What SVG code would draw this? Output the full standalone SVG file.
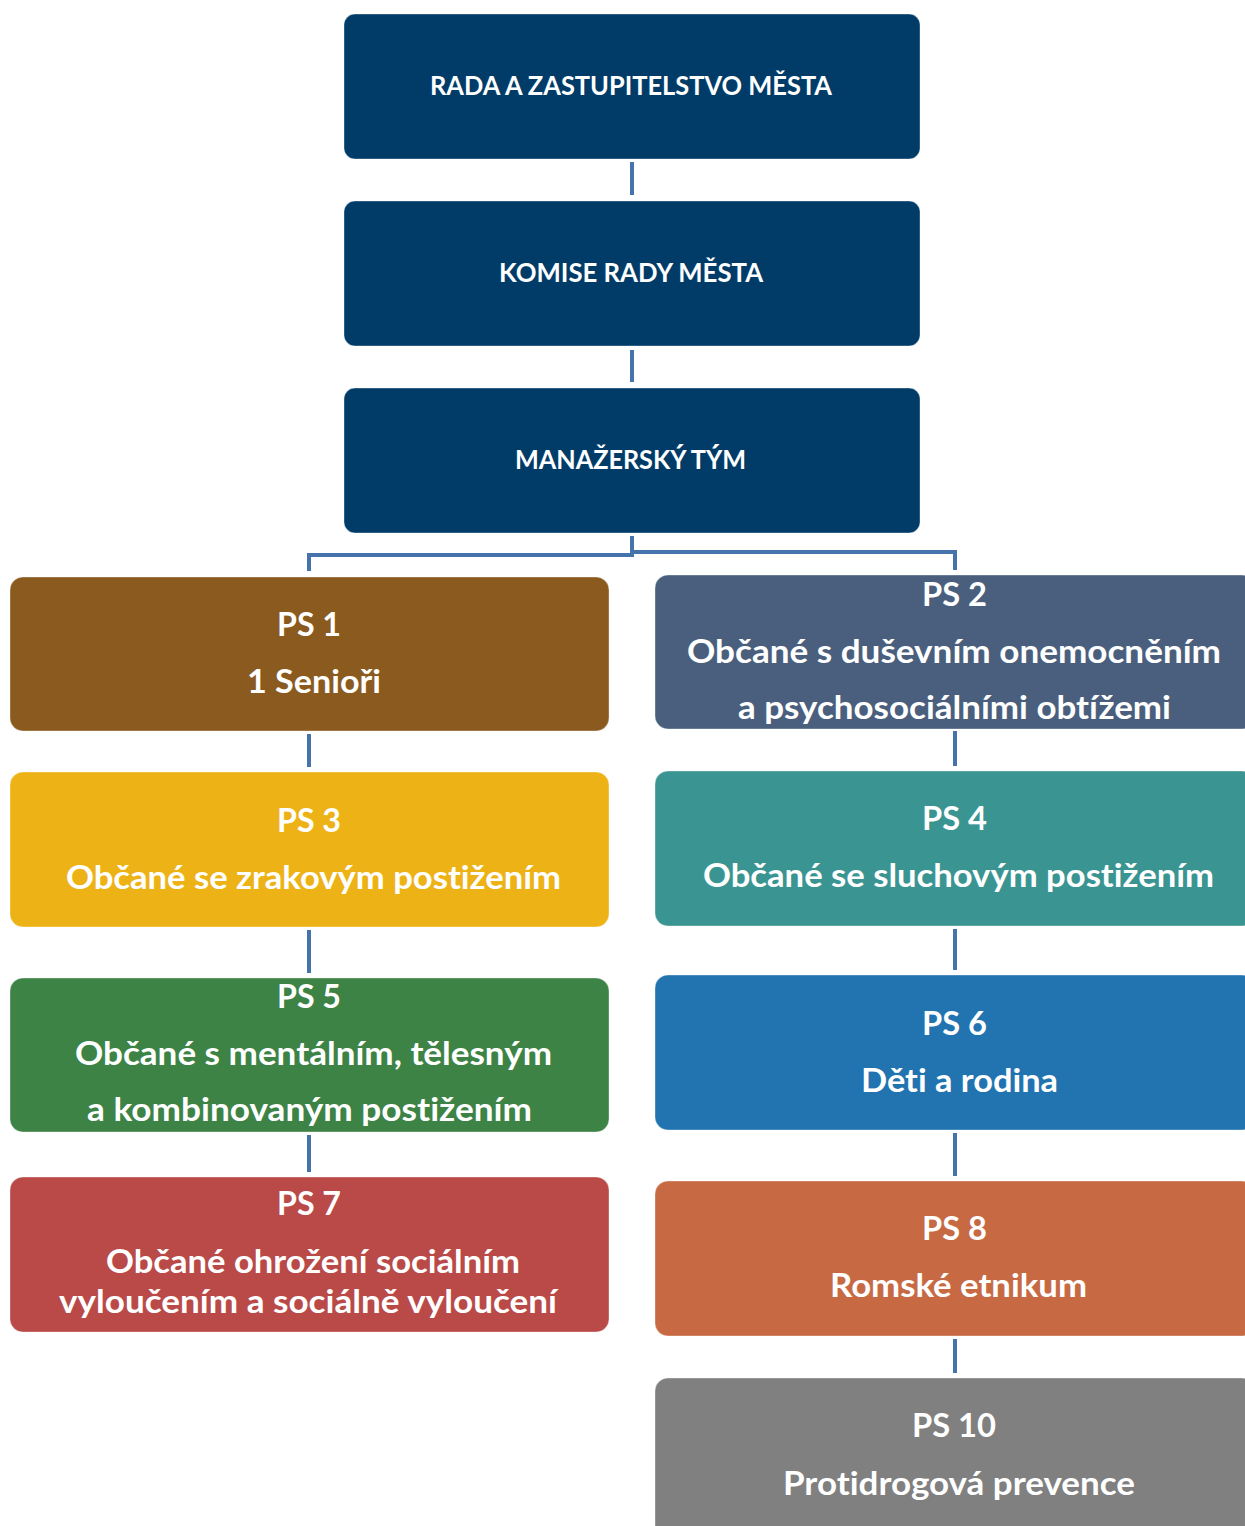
<svg xmlns="http://www.w3.org/2000/svg" width="1245" height="1526" viewBox="0 0 1245 1526">
<style>
text{font-family:Lato,"Open Sans","Liberation Sans",sans-serif;font-weight:bold;fill:#ffffff;text-anchor:middle;font-variant-ligatures:none;font-feature-settings:"liga" 0,"clig" 0,"dlig" 0,"calt" 0}
.t{font-size:26px}
.p{font-size:32px}
.box{stroke:#ffffff;stroke-opacity:0.35;stroke-width:1}
.con{fill:none;stroke:#4673ab;stroke-width:4}
</style>
<rect width="1245" height="1526" fill="#ffffff"/>
<g id="connectors">
<line class="con" x1="632" y1="162" x2="632" y2="195"/>
<line class="con" x1="632" y1="350" x2="632" y2="382"/>
<polyline class="con" points="632,536 632,555 309,555 309,571"/>
<polyline class="con" points="632,552 955,552 955,570"/>
<line class="con" x1="309" y1="734" x2="309" y2="767"/>
<line class="con" x1="309" y1="930" x2="309" y2="973"/>
<line class="con" x1="309" y1="1135" x2="309" y2="1172"/>
<line class="con" x1="955" y1="731" x2="955" y2="766"/>
<line class="con" x1="955" y1="929" x2="955" y2="970"/>
<line class="con" x1="955" y1="1133" x2="955" y2="1176"/>
<line class="con" x1="955" y1="1339" x2="955" y2="1373"/>
</g>
<g id="rada">
<rect class="box" x="344" y="14" width="576" height="145" rx="11" fill="#013c69"/>
<text class="t" x="631" y="95" textLength="402" lengthAdjust="spacingAndGlyphs">RADA A ZASTUPITELSTVO MĚSTA</text>
</g>
<g id="komise">
<rect class="box" x="344" y="201" width="576" height="145" rx="11" fill="#013c69"/>
<text class="t" x="631" y="282" textLength="264" lengthAdjust="spacingAndGlyphs">KOMISE RADY MĚSTA</text>
</g>
<g id="manazersky">
<rect class="box" x="344" y="388" width="576" height="145" rx="11" fill="#013c69"/>
<text class="t" x="630.5" y="469" textLength="231" lengthAdjust="spacingAndGlyphs">MANAŽERSKÝ TÝM</text>
</g>
<g id="ps1">
<rect class="box" x="10" y="577" width="599" height="154" rx="13" fill="#8b5a1f"/>
<text class="p" x="309" y="636" textLength="64" lengthAdjust="spacingAndGlyphs">PS 1</text>
<text class="p" x="314" y="693" textLength="134" lengthAdjust="spacingAndGlyphs">1 Senioři</text>
</g>
<g id="ps2">
<rect class="box" x="655" y="575" width="600" height="154" rx="13" fill="#4a5f7e"/>
<text class="p" x="954.5" y="606" textLength="65" lengthAdjust="spacingAndGlyphs">PS 2</text>
<text class="p" x="954" y="663" textLength="534" lengthAdjust="spacingAndGlyphs">Občané s duševním onemocněním</text>
<text class="p" x="954.5" y="719" textLength="433" lengthAdjust="spacingAndGlyphs">a psychosociálními obtížemi</text>
</g>
<g id="ps3">
<rect class="box" x="10" y="772" width="599" height="155" rx="13" fill="#edb316"/>
<text class="p" x="309" y="832" textLength="64" lengthAdjust="spacingAndGlyphs">PS 3</text>
<text class="p" x="313.5" y="889" textLength="495" lengthAdjust="spacingAndGlyphs">Občané se zrakovým postižením</text>
</g>
<g id="ps4">
<rect class="box" x="655" y="771" width="600" height="155" rx="13" fill="#3a9592"/>
<text class="p" x="954.5" y="830" textLength="65" lengthAdjust="spacingAndGlyphs">PS 4</text>
<text class="p" x="958.5" y="887" textLength="511" lengthAdjust="spacingAndGlyphs">Občané se sluchovým postižením</text>
</g>
<g id="ps5">
<rect class="box" x="10" y="978" width="599" height="154" rx="13" fill="#3d8346"/>
<text class="p" x="309" y="1008" textLength="64" lengthAdjust="spacingAndGlyphs">PS 5</text>
<text class="p" x="313.5" y="1065" textLength="477" lengthAdjust="spacingAndGlyphs">Občané s mentálním, tělesným</text>
<text class="p" x="309.5" y="1121" textLength="445" lengthAdjust="spacingAndGlyphs">a kombinovaným postižením</text>
</g>
<g id="ps6">
<rect class="box" x="655" y="975" width="600" height="155" rx="13" fill="#2174b0"/>
<text class="p" x="954.5" y="1035" textLength="65" lengthAdjust="spacingAndGlyphs">PS 6</text>
<text class="p" x="959.5" y="1092" textLength="197" lengthAdjust="spacingAndGlyphs">Děti a rodina</text>
</g>
<g id="ps7">
<rect class="box" x="10" y="1177" width="599" height="155" rx="13" fill="#b94a48"/>
<text class="p" x="309" y="1215" textLength="64" lengthAdjust="spacingAndGlyphs">PS 7</text>
<text class="p" x="313" y="1273" textLength="414" lengthAdjust="spacingAndGlyphs">Občané ohrožení sociálním</text>
<text class="p" x="308" y="1313" textLength="498" lengthAdjust="spacingAndGlyphs">vyloučením a sociálně vyloučení</text>
</g>
<g id="ps8">
<rect class="box" x="655" y="1181" width="600" height="155" rx="13" fill="#c76a44"/>
<text class="p" x="954.5" y="1240" textLength="65" lengthAdjust="spacingAndGlyphs">PS 8</text>
<text class="p" x="958.5" y="1297" textLength="257" lengthAdjust="spacingAndGlyphs">Romské etnikum</text>
</g>
<g id="ps10">
<rect class="box" x="655" y="1378" width="600" height="160" rx="13" fill="#808080"/>
<text class="p" x="954" y="1437" textLength="84" lengthAdjust="spacingAndGlyphs">PS 10</text>
<text class="p" x="959" y="1495" textLength="352" lengthAdjust="spacingAndGlyphs">Protidrogová prevence</text>
</g>
</svg>
